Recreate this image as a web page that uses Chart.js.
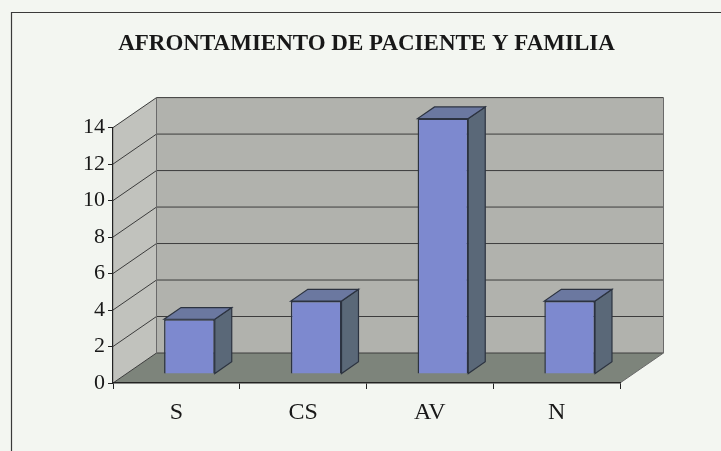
<!DOCTYPE html>
<html>
<head>
<meta charset="utf-8">
<script src="https://cdn.jsdelivr.net/npm/chart.js@4.4.0/dist/chart.umd.min.js"></script>
<style>
html, body { margin: 0; padding: 0; background: #f3f6f1; }
</style>
</head>
<body>
<canvas id="grafico" width="721" height="451"></canvas>
<script>
// datos
const titulo = 'AFRONTAMIENTO DE PACIENTE Y FAMILIA';
const categorias = ['S', 'CS', 'AV', 'N'];
const valores = [3, 4, 14, 4];
const ejeMin = 0;
const ejeMax = 14;
const ejePaso = 2;

// efecto 3D: desplazamiento del fondo respecto al frente
const prof = { dx: 43.5, dy: -30 };
const barraIni = 0.3;   // la barra empieza al 30% de la profundidad
const barraFin = 0.69;

const colores = {
    papel: '#f3f6f1',
    marco: '#3a3a3a',
    paredIzq: '#c1c2bd',
    paredFondo: '#b1b2ad',
    piso: '#7d847b',
    rejilla: '#3c3c3c',
    frente: '#7d89cf',
    tapa: '#6b78a0',
    lado: '#5a6878',
    borde: '#2c3340',
    texto: '#181818'
};

const fuente = '"Liberation Serif", "Times New Roman", serif';

// paredes, piso y rejilla de fondo
const plugin3D = {
    id: 'plugin3D',
    beforeDraw(chart) {
        const ctx = chart.ctx;
        const { left, right, top, bottom } = chart.chartArea;
        const y = chart.scales.y;
        const { dx, dy } = prof;

        ctx.save();
        ctx.fillStyle = colores.papel;
        ctx.fillRect(0, 0, chart.width, chart.height);

        // marco del gráfico
        ctx.strokeStyle = colores.marco;
        ctx.lineWidth = 1.2;
        ctx.beginPath();
        ctx.moveTo(11.5, chart.height + 2);
        ctx.lineTo(11.5, 12.5);
        ctx.lineTo(chart.width + 2, 12.5);
        ctx.stroke();

        // pared izquierda
        ctx.fillStyle = colores.paredIzq;
        ctx.beginPath();
        ctx.moveTo(left, top);
        ctx.lineTo(left + dx, top + dy);
        ctx.lineTo(left + dx, bottom + dy);
        ctx.lineTo(left, bottom);
        ctx.closePath();
        ctx.fill();

        // pared de fondo
        ctx.fillStyle = colores.paredFondo;
        ctx.fillRect(left + dx, top + dy, right - left, bottom - top);

        // piso
        ctx.fillStyle = colores.piso;
        ctx.beginPath();
        ctx.moveTo(left, bottom);
        ctx.lineTo(right, bottom);
        ctx.lineTo(right + dx, bottom + dy);
        ctx.lineTo(left + dx, bottom + dy);
        ctx.closePath();
        ctx.fill();

        // rejilla
        ctx.strokeStyle = colores.rejilla;
        ctx.lineWidth = 1;
        for (let v = ejeMin; v <= ejeMax; v += ejePaso) {
            const py = y.getPixelForValue(v);
            ctx.beginPath();
            ctx.moveTo(left, py);
            ctx.lineTo(left + dx, py + dy);
            ctx.lineTo(right + dx, py + dy);
            ctx.stroke();
        }

        // aristas de las paredes
        ctx.strokeStyle = '#6a6a6a';
        ctx.beginPath();
        ctx.moveTo(left + dx, top + dy);
        ctx.lineTo(left + dx, bottom + dy);
        ctx.moveTo(right + dx, top + dy);
        ctx.lineTo(right + dx, bottom + dy);
        ctx.lineTo(right, bottom);
        ctx.stroke();
        ctx.restore();
    },
    beforeDatasetsDraw(chart) {
        chart.ctx.save();
        chart.ctx.translate(prof.dx * barraIni, prof.dy * barraIni);
    },
    afterDatasetsDraw(chart) {
        const ctx = chart.ctx;
        const ddx = prof.dx * (barraFin - barraIni);
        const ddy = prof.dy * (barraFin - barraIni);
        ctx.lineWidth = 1.2;
        ctx.strokeStyle = colores.borde;
        chart.getDatasetMeta(0).data.forEach(barra => {
            const { x, y, base, width } = barra.getProps(['x', 'y', 'base', 'width'], true);
            const x0 = x - width / 2;
            const x1 = x + width / 2;

            // lado derecho
            ctx.fillStyle = colores.lado;
            ctx.beginPath();
            ctx.moveTo(x1, y);
            ctx.lineTo(x1 + ddx, y + ddy);
            ctx.lineTo(x1 + ddx, base + ddy);
            ctx.lineTo(x1, base);
            ctx.closePath();
            ctx.fill();
            ctx.stroke();

            // tapa
            ctx.fillStyle = colores.tapa;
            ctx.beginPath();
            ctx.moveTo(x0, y);
            ctx.lineTo(x1, y);
            ctx.lineTo(x1 + ddx, y + ddy);
            ctx.lineTo(x0 + ddx, y + ddy);
            ctx.closePath();
            ctx.fill();
            ctx.stroke();
        });
        ctx.restore();
    }
};

new Chart(document.getElementById('grafico'), {
    type: 'bar',
    data: {
        labels: categorias,
        datasets: [{
            data: valores,
            backgroundColor: colores.frente,
            borderColor: colores.borde,
            borderWidth: 1.5,
            barPercentage: 0.4,
            categoryPercentage: 1,
            clip: false
        }]
    },
    options: {
        responsive: false,
        animation: false,
        devicePixelRatio: 1,
        layout: { padding: { top: 0, right: 101, bottom: 0, left: 0 } },
        plugins: {
            legend: { display: false },
            tooltip: { enabled: false },
            title: {
                display: true,
                text: titulo,
                fullSize: false,
                color: colores.texto,
                font: { family: fuente, size: 23, weight: 'bold' },
                padding: { top: 30, bottom: 70 }
            }
        },
        scales: {
            x: {
                grid: {
                    drawOnChartArea: false,
                    drawTicks: true,
                    tickLength: 6,
                    color: '#222',
                    offset: true
                },
                border: { display: true, color: '#222', width: 1.5 },
                ticks: {
                    color: colores.texto,
                    font: { family: fuente, size: 24 },
                    padding: 9
                },
                afterFit(escala) { escala.height = 68; }
            },
            y: {
                min: ejeMin,
                max: ejeMax,
                grid: {
                    drawOnChartArea: false,
                    drawTicks: true,
                    tickLength: 5,
                    color: '#222'
                },
                border: { display: true, color: '#222', width: 1.2 },
                ticks: {
                    stepSize: ejePaso,
                    color: colores.texto,
                    font: { family: fuente, size: 22 },
                    padding: 3
                },
                afterFit(escala) { escala.width = 113; }
            }
        }
    },
    plugins: [plugin3D]
});
</script>
</body>
</html>
